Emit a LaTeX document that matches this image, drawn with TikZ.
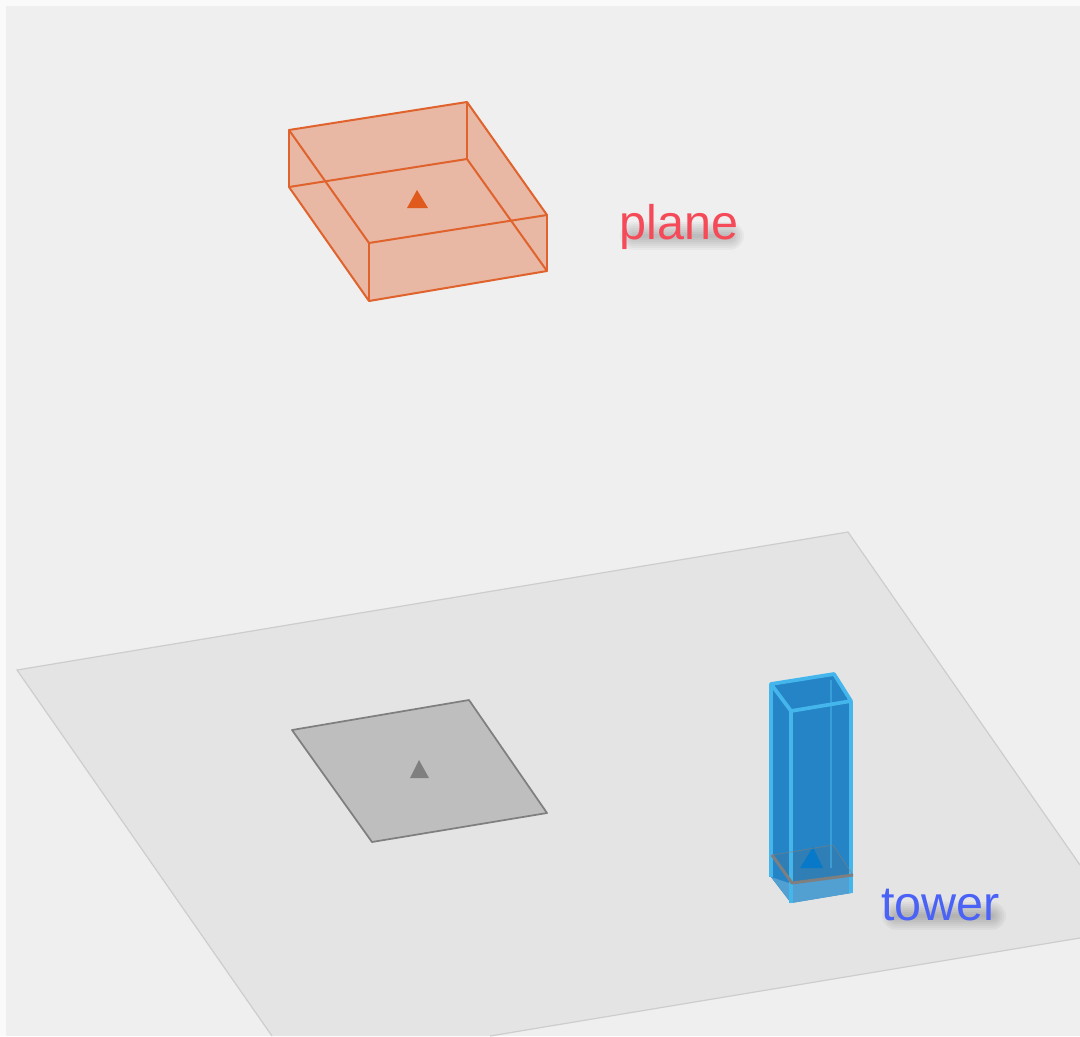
\documentclass[tikz,border=0pt]{standalone}
\usepackage{fontspec}
\setmainfont{Liberation Sans}
\definecolor{pagewhite}{HTML}{FAFAFA}
\definecolor{bggray}{HTML}{EFEFEF}
\definecolor{groundfill}{HTML}{E4E4E4}
\definecolor{groundedge}{HTML}{CDCDCD}
\definecolor{padfill}{HTML}{BEBEBE}
\definecolor{padedge}{HTML}{7F7F7F}
\definecolor{boxfill}{HTML}{E8B8A4}
\definecolor{boxedge}{HTML}{E0622C}
\definecolor{boxmark}{HTML}{E05A1E}
\definecolor{towerfill}{HTML}{2484C6}
\definecolor{towerlow}{HTML}{529FD2}
\definecolor{towerpad}{HTML}{2F7FB6}
\definecolor{towerline}{HTML}{45B6EC}
\definecolor{towermark}{HTML}{0878C8}
\definecolor{planered}{HTML}{F54A58}
\definecolor{towerblue}{HTML}{4A62F6}
\tikzset{
  x=0.75pt,y=-0.75pt,
  boxline/.style={draw=boxedge,line width=1.5pt,line join=round},
  towerstroke/.style={draw=towerline,line width=2.8pt,line join=round},
  labeltext/.style={font=\fontsize{36.4}{36.4}\selectfont,inner sep=0pt,anchor=base west},
  softshadow/.style={draw=black,line cap=round,opacity=.03},
}
\begin{document}
\begin{tikzpicture}
\useasboundingbox (0,0) rectangle (1080,1036);
\fill[pagewhite] (0,0) rectangle (1080,1036);
\fill[bggray] (6,6) rectangle (1080,1036);
% ground
\fill[groundfill] (17,670) -- (848,532) -- (1080,865) -- (1080,938) -- (490,1036) -- (272,1036) -- cycle;
\draw[groundedge,line width=0.9pt] (272,1036) -- (17,670) -- (848,532) -- (1080,865);
\draw[groundedge,line width=0.9pt] (1080,938) -- (490,1036);
% grey pad
\draw[fill=padfill,draw=padedge,line width=1.3pt,line join=round] (292,730) -- (469,700) -- (547,813) -- (372,842) -- cycle;
\fill[padedge] (410,778) -- (429,778) -- (419,760) -- cycle;
% orange box
\fill[boxfill] (289,130) -- (467,102) -- (547,215) -- (547,271) -- (369,301) -- (289,187) -- cycle;
\draw[boxline] (289,130) -- (467,102) -- (547,215) -- (369,243) -- cycle;
\draw[boxline] (289,187) -- (467,159) -- (547,271) -- (369,301) -- cycle;
\draw[boxline] (289,130) -- (289,187) (467,102) -- (467,159) (547,215) -- (547,271) (369,243) -- (369,301);
\fill[boxmark] (407,208) -- (428,208) -- (417,190) -- cycle;
% tower
\fill[towerfill] (771,684) -- (834,674) -- (851,701) -- (851,893) -- (791,903) -- (771,877) -- cycle;
\fill[towerlow] (771,877) -- (792,884) -- (852,875) -- (851,893) -- (791,903) -- cycle;
\fill[towerpad] (772,855) -- (833,845) -- (853,875) -- (792,883) -- cycle;
\fill[towermark] (800,868) -- (823,868) -- (813,847) -- cycle;
\draw[towerstroke,line width=1.6pt,opacity=.55] (831,680) -- (831,868);
\draw[towerstroke] (771,684) -- (834,674) -- (851,701) -- (791,711) -- cycle;
\draw[towerstroke] (771,684) -- (771,877) (791,711) -- (791,903) (851,701) -- (851,893);
\draw[padedge,line width=2.2pt,line join=round] (772,855) -- (792,883) -- (853,875);
\draw[padedge,line width=0.6pt,opacity=.6] (772,855) -- (833,845) -- (853,875);
% soft label shadows
\coordinate (planeshadowa) at (634,236);
\coordinate (planeshadowb) at (730,236);
\coordinate (towershadowa) at (896,916);
\coordinate (towershadowb) at (992,916);
\foreach \w in {3,6,9,12,15,18,21}{
  \draw[softshadow,line width=\w pt] (planeshadowa) -- (planeshadowb);
  \draw[softshadow,line width=\w pt] (towershadowa) -- (towershadowb);
}
\node[labeltext,text=planered] (planelabel) at (619,239) {plane};
\node[labeltext,text=towerblue] (towerlabel) at (881,920) {tower};
\end{tikzpicture}
\end{document}
